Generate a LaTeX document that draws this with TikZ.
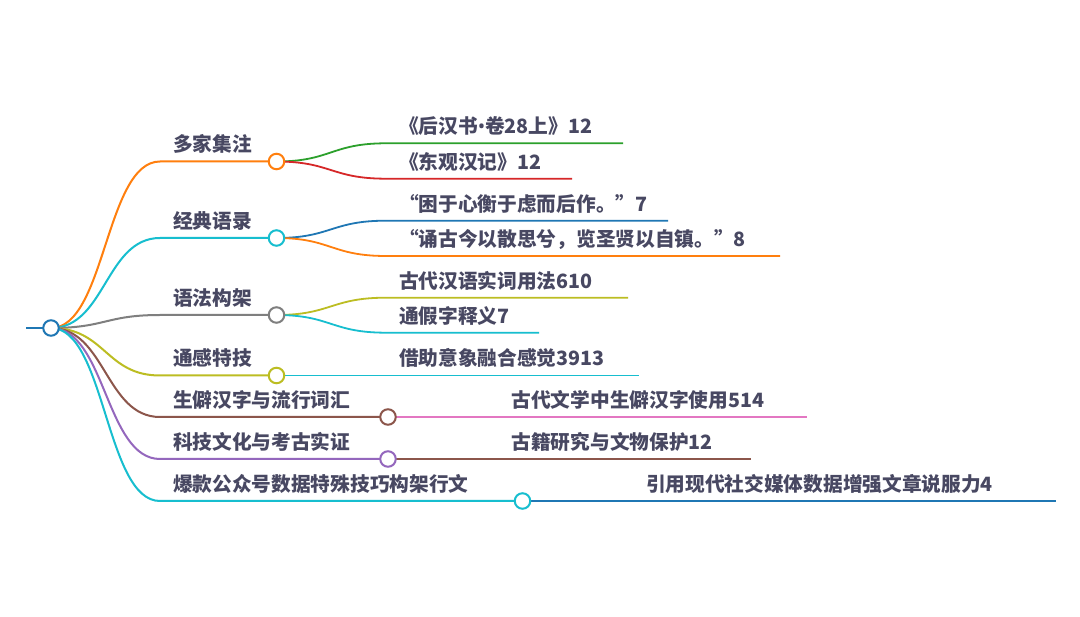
\documentclass[tikz,border=0pt]{standalone}
\usepackage{fontspec}
\setmainfont{Noto Sans CJK SC}
\newfontfamily\latinfont{Noto Sans}
\usetikzlibrary{backgrounds}
\definecolor{cblue}{HTML}{1F77B4}
\definecolor{corange}{HTML}{FF7F0E}
\definecolor{cgreen}{HTML}{2CA02C}
\definecolor{cred}{HTML}{D62728}
\definecolor{cpurple}{HTML}{9467BD}
\definecolor{cbrown}{HTML}{8C564B}
\definecolor{cpink}{HTML}{E377C2}
\definecolor{cgray}{HTML}{7F7F7F}
\definecolor{colive}{HTML}{BCBD22}
\definecolor{ccyan}{HTML}{17BECF}
\definecolor{txt}{RGB}{72,72,98}
\begin{document}
\begin{tikzpicture}[x=1pt,y=-1pt,
  lbl/.style={anchor=base west, inner sep=0pt, outer sep=0pt, text=txt,
    font=\fontsize{19.7}{22}\selectfont\bfseries},
  dot/.style={circle, draw=#1, fill=white, line width=2pt, minimum size=15.5pt, inner sep=0pt},
  linkA/.style={draw=#1, line width=2pt},
  linkB/.style={draw=#1, line width=1.8pt}]
\useasboundingbox (0,0) rectangle (1080,617);
% circles
\node[dot=cblue] (root) at (51,328) {};
\node[dot=corange] (A) at (276.5,161.5) {};
\node[dot=ccyan] (B) at (276.5,238) {};
\node[dot=cgray] (C) at (276.5,315) {};
\node[dot=colive] (D) at (276.5,375.5) {};
\node[dot=cbrown] (E) at (388,417) {};
\node[dot=cpurple] (F) at (388,459) {};
\node[dot=ccyan] (G) at (522.5,501) {};
% level-1 line starts
\coordinate (r0) at (26,328);
\coordinate (sA) at (160,161.5);
\coordinate (sB) at (160,238);
\coordinate (sC) at (160,315);
\coordinate (sD) at (160,375.5);
\coordinate (sE) at (160,417);
\coordinate (sF) at (160,459);
\coordinate (sG) at (160,501);
% child line starts and ends
\coordinate (sA1) at (386,143.3);   \coordinate (eA1) at (623,143.3);
\coordinate (sA2) at (386,178.7);   \coordinate (eA2) at (572,178.7);
\coordinate (sB1) at (386,220.7);   \coordinate (eB1) at (668,220.7);
\coordinate (sB2) at (386,256);     \coordinate (eB2) at (780,256);
\coordinate (sC1) at (386,297.7);   \coordinate (eC1) at (628,297.7);
\coordinate (sC2) at (386,332.7);   \coordinate (eC2) at (539,332.7);
\coordinate (eD1) at (639,375.5);
\coordinate (eE1) at (807,417);
\coordinate (eF1) at (751,459);
\coordinate (eG1) at (1056,501);
% texts
\node[lbl] (tA) at (173,152) {多家集注};
\node[lbl] (tB) at (173,228.5) {经典语录};
\node[lbl] (tC) at (173,305.5) {语法构架};
\node[lbl] (tD) at (173,366) {通感特技};
\node[lbl] (tE) at (173,407.5) {生僻汉字与流行词汇};
\node[lbl] (tF) at (173,449.5) {科技文化与考古实证};
\node[lbl] (tG) at (173,491.5) {爆款公众号数据特殊技巧构架行文};
\node[lbl] (tA1) at (399,133.8) {《后汉书{\latinfont\bfseries •}卷28上》12};
\node[lbl] (tA2) at (399,169.2) {《东观汉记》12};
\node[lbl] (tB1) at (399,211.2) {“困于心衡于虑而后作。”7};
\node[lbl] (tB2) at (399,246.5) {“诵古今以散思兮，览圣贤以自镇。”8};
\node[lbl] (tC1) at (399,288.2) {古代汉语实词用法610};
\node[lbl] (tC2) at (399,323.2) {通假字释义7};
\node[lbl] (tD1) at (399,366) {借助意象融合感觉3913};
\node[lbl] (tE1) at (511.5,407.5) {古代文学中生僻汉字使用514};
\node[lbl] (tF1) at (511.5,449.5) {古籍研究与文物保护12};
\node[lbl] (tG1) at (646,491.5) {引用现代社交媒体数据增强文章说服力4};
% connectors
\begin{scope}[on background layer]
\fill[white] (0,0) rectangle (1080,617);
\draw[linkA=cblue] (r0) -- (root.center);
\draw[linkA=corange] (root.center) .. controls (105.5,328) and (105.5,161.5) .. (sA) -- (A.center);
\draw[linkA=ccyan] (root.center) .. controls (105.5,328) and (105.5,238) .. (sB) -- (B.center);
\draw[linkA=cgray] (root.center) .. controls (105.5,328) and (105.5,315) .. (sC) -- (C.center);
\draw[linkA=colive] (root.center) .. controls (105.5,328) and (105.5,375.5) .. (sD) -- (D.center);
\draw[linkA=cbrown] (root.center) .. controls (105.5,328) and (105.5,417) .. (sE) -- (E.center);
\draw[linkA=cpurple] (root.center) .. controls (105.5,328) and (105.5,459) .. (sF) -- (F.center);
\draw[linkA=ccyan] (root.center) .. controls (105.5,328) and (105.5,501) .. (sG) -- (G.center);
\draw[linkB=cgreen] (A.center) .. controls (331,161.5) and (331,143.3) .. (sA1) -- (eA1);
\draw[linkB=cred] (A.center) .. controls (331,161.5) and (331,178.7) .. (sA2) -- (eA2);
\draw[linkB=cblue] (B.center) .. controls (331,238) and (331,220.7) .. (sB1) -- (eB1);
\draw[linkB=corange] (B.center) .. controls (331,238) and (331,256) .. (sB2) -- (eB2);
\draw[linkB=colive] (C.center) .. controls (331,315) and (331,297.7) .. (sC1) -- (eC1);
\draw[linkB=ccyan] (C.center) .. controls (331,315) and (331,332.7) .. (sC2) -- (eC2);
\draw[linkB=ccyan] (D.center) -- (eD1);
\draw[linkB=cpink] (E.center) -- (eE1);
\draw[linkB=cbrown] (F.center) -- (eF1);
\draw[linkB=cblue] (G.center) -- (eG1);
\end{scope}
\end{tikzpicture}
\end{document}
